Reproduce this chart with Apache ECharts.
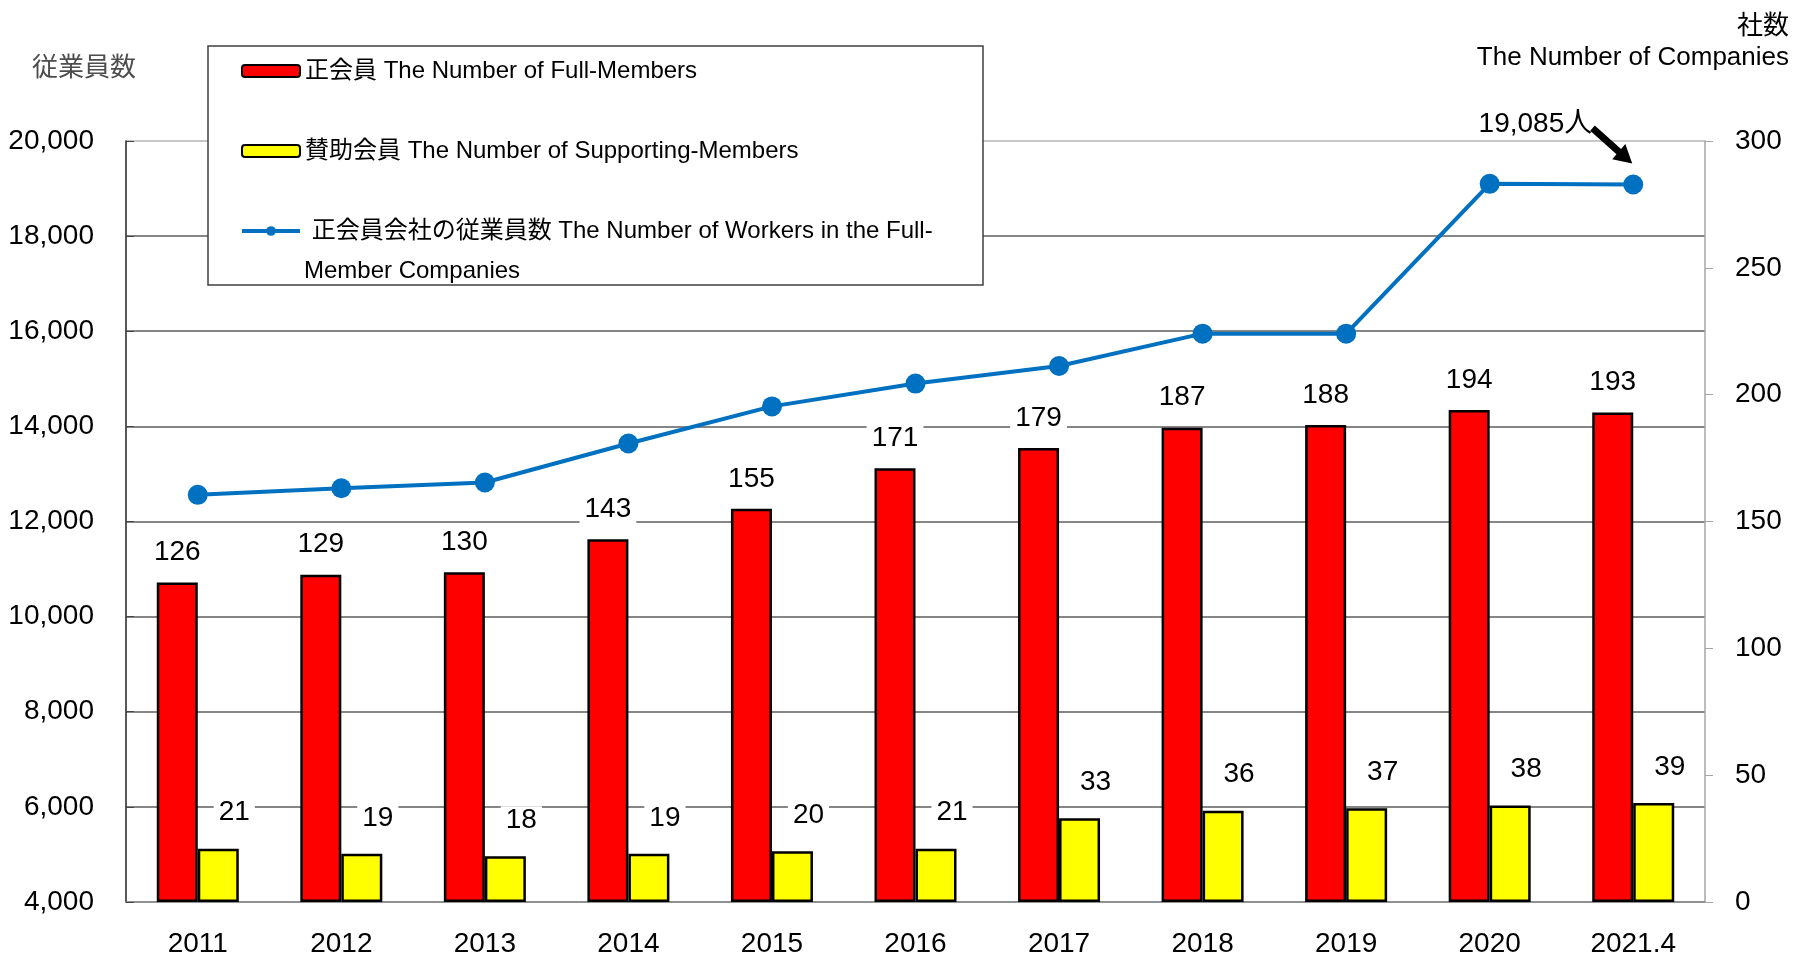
<!DOCTYPE html>
<html>
<head>
<meta charset="utf-8">
<script src="https://cdn.jsdelivr.net/npm/echarts@6/dist/echarts.min.js"></script>
<style>
html, body { margin: 0; padding: 0; background: #fff; }
#main { width: 1802px; height: 958px; }
</style>
</head>
<body>
<div id="main"></div>
<script>
// 年度
var years = ['2011', '2012', '2013', '2014', '2015', '2016', '2017', '2018', '2019', '2020', '2021.4'];
// 正会員 社数
var fullMembers = [126, 129, 130, 143, 155, 171, 179, 187, 188, 194, 193];
// 賛助会員 社数
var supportMembers = [21, 19, 18, 19, 20, 21, 33, 36, 37, 38, 39];
// 正会員会社の従業員数
var workers = [12560, 12700, 12820, 13640, 14420, 14900, 15270, 15950, 15950, 19100, 19085];

var nameFull = '正会員 The Number of Full-Members';
var nameSupport = '賛助会員 The Number of Supporting-Members';
var nameWorkers = ' 正会員会社の従業員数 The Number of Workers in the Full-';
var nameWorkers2 = 'Member Companies';

var font = '"Liberation Sans", Arial, "Noto Sans CJK JP", sans-serif';

var chart = echarts.init(document.getElementById('main'));

var option = {
    backgroundColor: '#fff',
    animation: false,
    textStyle: { fontFamily: font },
    grid: { left: 126, right: 97, top: 141, bottom: 54 },
    graphic: [
        {
            type: 'rect',
            z: 50,
            shape: { x: 208, y: 46, width: 775, height: 239 },
            style: { fill: '#fff', stroke: '#404040', lineWidth: 1.5 }
        },
        {
            type: 'text',
            z: 60,
            left: 304,
            top: 259,
            style: { text: nameWorkers2, fontSize: 24, fontFamily: font, fill: '#000' }
        }
    ],
    legend: {
        orient: 'vertical',
        left: 240,
        top: 56,
        padding: 0,
        z: 60,
        itemGap: 50,
        itemWidth: 58,
        itemHeight: 12,
        lineStyle: { width: 4 },
        textStyle: { fontFamily: font, fontSize: 24, color: '#000', lineHeight: 30 },
        data: [nameFull, nameSupport, nameWorkers]
    },
    xAxis: {
        type: 'category',
        data: years,
        axisLine: { lineStyle: { color: '#8c8c8c', width: 1.5 } },
        axisTick: { inside: true, length: 9, lineStyle: { color: '#555' } },
        axisLabel: { fontSize: 28, color: '#000', margin: 28, fontFamily: font }
    },
    yAxis: [
        {
            type: 'value',
            min: 4000,
            max: 20000,
            interval: 2000,
            name: '従業員数',
            nameLocation: 'end',
            nameGap: 62,
            nameTextStyle: {
                fontFamily: '"Noto Sans CJK JP", sans-serif',
                fontSize: 26,
                color: '#4d4d4d',
                align: 'center',
                padding: [0, 84, 0, 0]
            },
            axisLine: { show: true, lineStyle: { color: '#222', width: 1.5 } },
            axisTick: { show: true, inside: true, length: 8, lineStyle: { color: '#444' } },
            axisLabel: {
                fontSize: 28,
                color: '#000',
                margin: 32,
                fontFamily: font,
                formatter: function (v) { return v.toLocaleString('en-US'); }
            },
            splitLine: {
                show: true,
                lineStyle: {
                    color: ['#808080', '#5e5e5e', '#5e5e5e', '#5e5e5e', '#5e5e5e', '#5e5e5e', '#5e5e5e', '#5e5e5e', '#b4b4b4'],
                    width: 1.5
                }
            }
        },
        {
            type: 'value',
            min: 0,
            max: 300,
            interval: 50,
            position: 'right',
            name: '{a|社数}\n{b|The Number of Companies}',
            nameLocation: 'end',
            nameGap: 66,
            nameTextStyle: {
                align: 'right',
                padding: [0, -84, 0, 0],
                rich: {
                    a: { fontFamily: '"Noto Sans CJK JP", sans-serif', fontSize: 26, color: '#000', lineHeight: 34, align: 'right' },
                    b: { fontFamily: font, fontSize: 26, color: '#000', lineHeight: 34, align: 'right' }
                }
            },
            axisLine: { show: true, lineStyle: { color: '#a6a6a6', width: 1.5 } },
            axisTick: { show: true, length: 8, lineStyle: { color: '#a6a6a6' } },
            axisLabel: { fontSize: 28, color: '#000', margin: 30, fontFamily: font },
            splitLine: { show: false }
        }
    ],
    series: [
        {
            name: nameFull,
            type: 'bar',
            yAxisIndex: 1,
            data: fullMembers,
            barWidth: 41,
            barGap: '0%',
            itemStyle: { color: '#ff0000', borderColor: '#000', borderWidth: 2.5 },
            label: {
                show: true,
                position: 'top',
                distance: 16,
                fontSize: 28,
                color: '#000',
                fontFamily: font,
                backgroundColor: '#fff',
                padding: [0, 5]
            }
        },
        {
            name: nameSupport,
            type: 'bar',
            yAxisIndex: 1,
            data: supportMembers,
            barWidth: 41,
            barGap: '0%',
            itemStyle: { color: '#ffff00', borderColor: '#000', borderWidth: 2.5 },
            label: {
                show: true,
                position: 'top',
                distance: 22,
                offset: [16, 0],
                fontSize: 28,
                color: '#000',
                fontFamily: font,
                backgroundColor: '#fff',
                padding: [0, 5]
            }
        },
        {
            name: nameWorkers,
            type: 'line',
            yAxisIndex: 0,
            data: workers,
            z: 5,
            symbol: 'circle',
            symbolSize: 20,
            itemStyle: { color: '#0070c0' },
            lineStyle: { color: '#0070c0', width: 4 },
            markPoint: {
                symbol: 'path://M4.6 0 L31.05 23.15 L35.34 18.25 L42.3 37.63 L22.17 33.31 L26.45 28.41 L0 5.26 Z',
                symbolSize: [42, 38],
                symbolOffset: [-22, -40],
                itemStyle: { color: '#000' },
                label: {
                    show: true,
                    position: 'left',
                    distance: -2,
                    offset: [0, -20],
                    fontSize: 28,
                    color: '#000',
                    fontFamily: font,
                    formatter: function (p) { return p.value.toLocaleString('en-US') + '人'; }
                },
                data: [
                    { coord: [years.length - 1, workers[workers.length - 1]], value: workers[workers.length - 1] }
                ]
            }
        }
    ]
};

chart.setOption(option);
window.addEventListener('resize', function () {
    chart.resize();
});
</script>
</body>
</html>
